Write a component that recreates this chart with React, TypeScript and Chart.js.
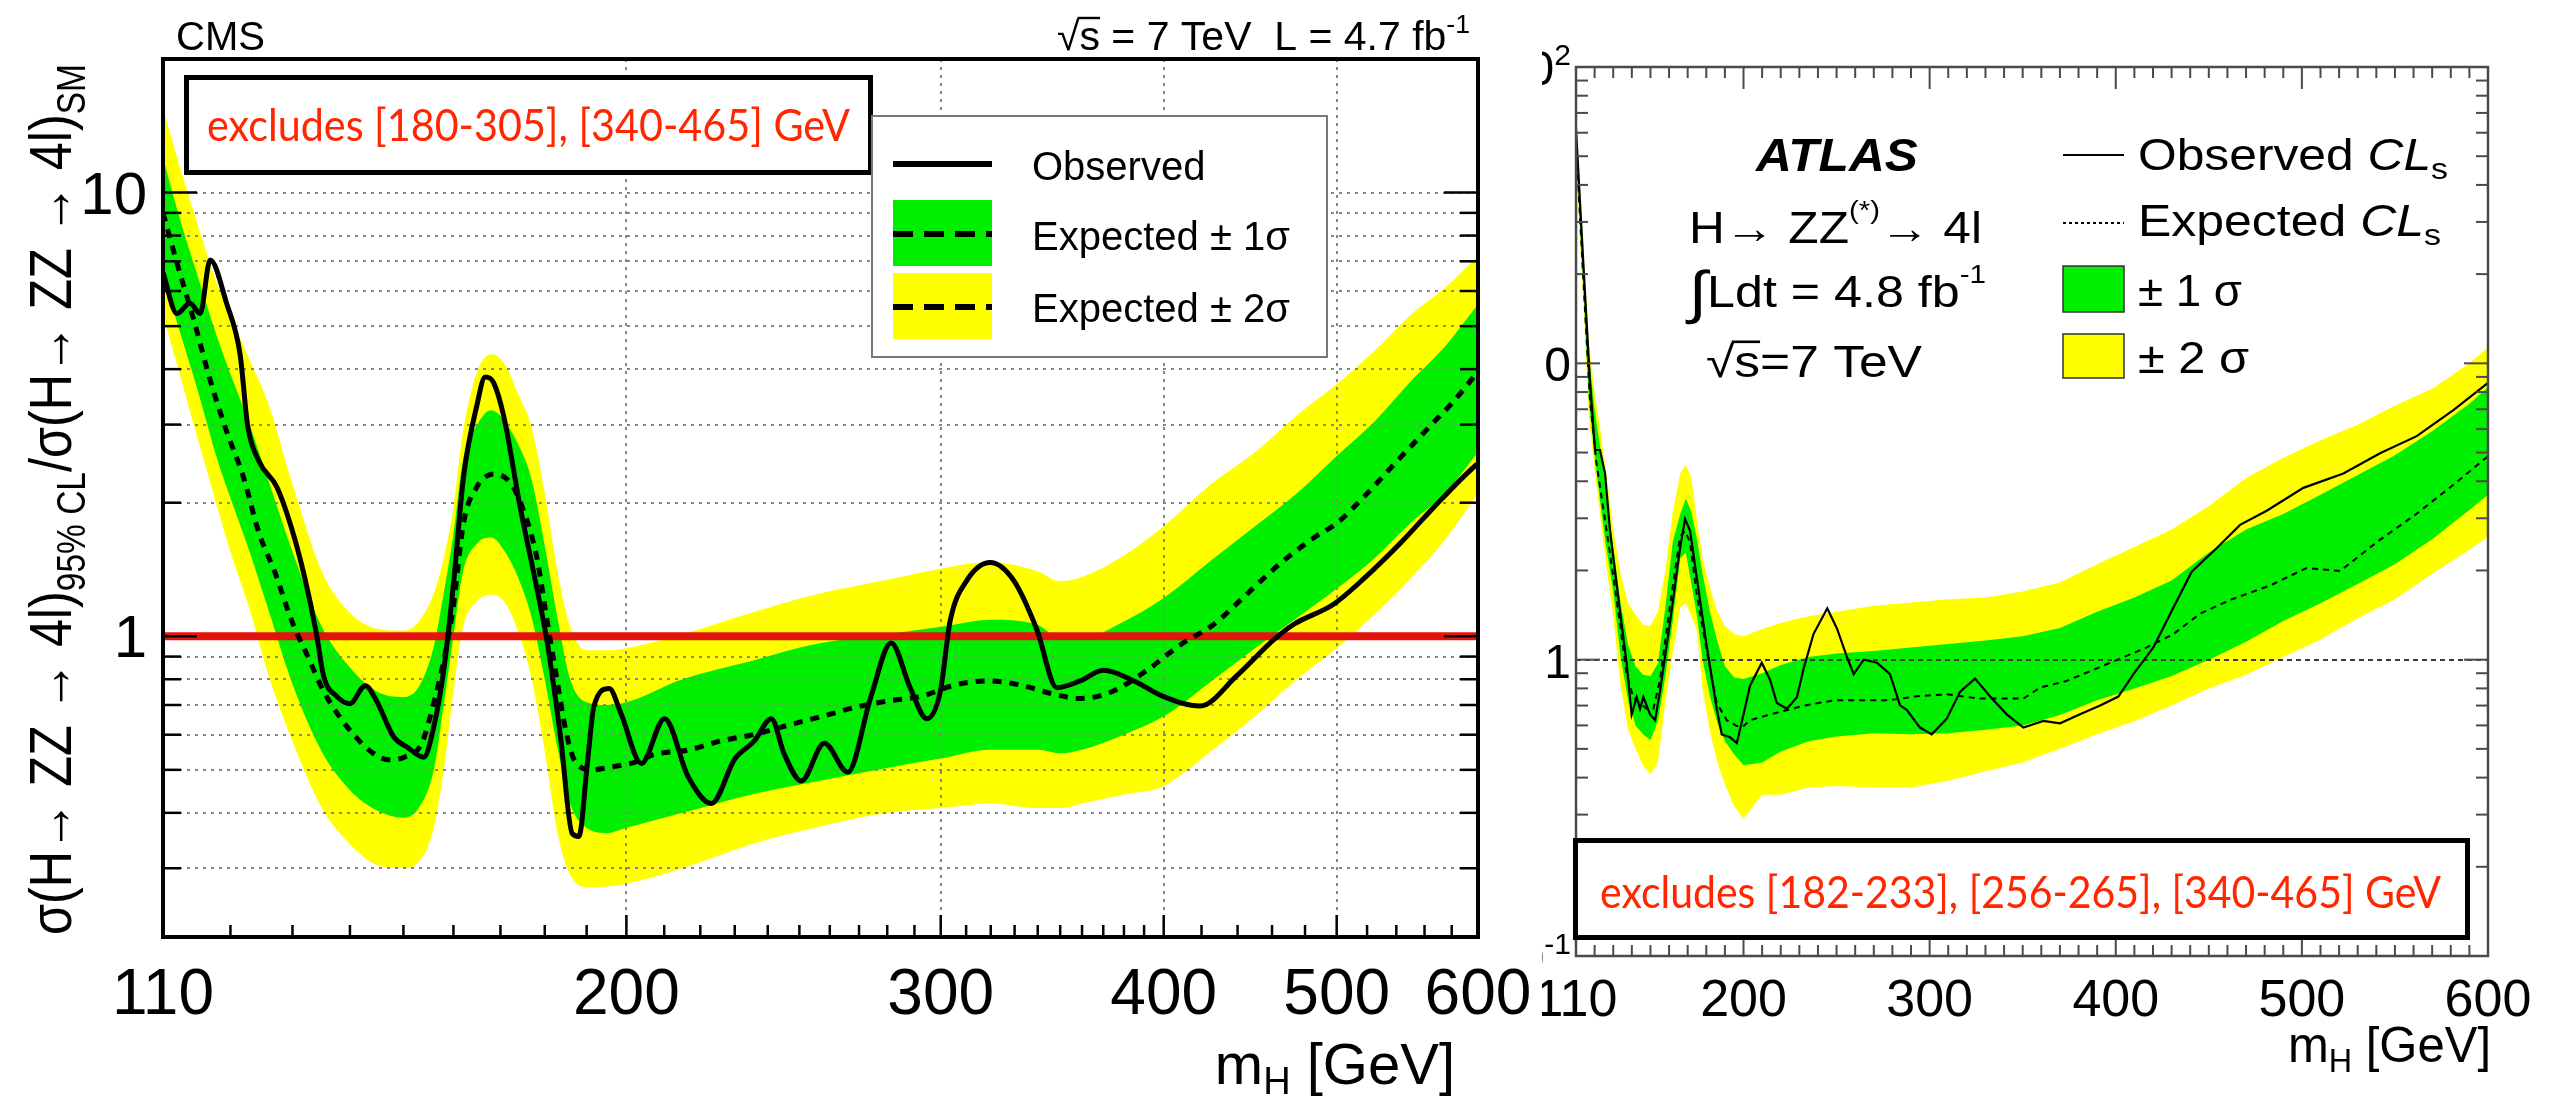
import React, { useEffect, useRef } from "react";
import { Chart, registerables } from "chart.js";

Chart.register(...registerables);

// ================= CMS panel data =================
const cmsObsMass = [110, 112, 113.9, 115.4, 116.9, 119.4, 121.5, 122.7, 124.5, 127.4, 129.8, 132.1, 134.1, 135.3, 137.6, 140, 142.8, 144.9, 148.1, 150.7, 154, 156, 158, 160, 162.1, 164.9, 166.7, 168.5, 170.7, 174.4, 178.2, 180.5, 183.7, 186.5, 188.1, 190.2, 191.8, 195.6, 198.6, 203.9, 210.1, 216.6, 223.2, 230, 235.9, 241.1, 245.2, 250.6, 258.2, 266.1, 274.2, 281.4, 288.4, 294.7, 299.8, 303.7, 310.3, 319.8, 329.6, 339.6, 348.5, 359.1, 370.1, 384.7, 399.1, 419.2, 439.6, 460.9, 472.9, 498, 517.8, 542.9, 566.8, 596.9, 600];
const cmsObsLimit = [6.6, 5.34, 5.63, 5.34, 7.05, 5.63, 4.32, 2.98, 2.48, 2.17, 1.76, 1.35, 1.01, 0.815, 0.733, 0.705, 0.774, 0.715, 0.594, 0.563, 0.534, 0.626, 0.838, 1.31, 2.29, 3.31, 3.84, 3.73, 3.14, 1.95, 1.28, 0.98, 0.594, 0.359, 0.354, 0.52, 0.696, 0.763, 0.67, 0.517, 0.652, 0.482, 0.42, 0.529, 0.581, 0.652, 0.542, 0.472, 0.574, 0.494, 0.732, 0.966, 0.766, 0.652, 0.749, 1.085, 1.336, 1.466, 1.336, 1.036, 0.766, 0.793, 0.838, 0.794, 0.734, 0.696, 0.815, 0.981, 1.063, 1.181, 1.348, 1.622, 1.954, 2.41, 2.45];
const cmsExpMass = [110, 112.4, 114.4, 116.9, 119.4, 122, 124.5, 127.2, 129.8, 132.5, 135.3, 138.1, 141, 144, 147.1, 150.2, 153.5, 156.1, 158, 159.9, 162.1, 164.9, 168.5, 172, 174.9, 178.2, 180.5, 182.7, 185, 187.3, 191.4, 195.3, 202.1, 207.4, 216.6, 226, 235.9, 246.3, 257.1, 268.4, 280.2, 292.5, 305.3, 318.7, 332.7, 347.3, 359.1, 374.9, 391.4, 408.6, 426.6, 445.3, 464.9, 485.3, 500.2, 517.8, 540.4, 564.2, 582, 600];
const cmsExpLimit = [9.0, 6.6, 5.2, 3.78, 2.9, 2.29, 1.71, 1.38, 1.09, 0.906, 0.753, 0.66, 0.594, 0.548, 0.527, 0.534, 0.571, 0.715, 0.88, 1.15, 1.8, 2.17, 2.32, 2.23, 1.95, 1.5, 1.09, 0.815, 0.61, 0.52, 0.5, 0.506, 0.52, 0.542, 0.554, 0.581, 0.601, 0.63, 0.659, 0.691, 0.715, 0.732, 0.776, 0.793, 0.776, 0.74, 0.724, 0.753, 0.838, 0.956, 1.063, 1.245, 1.459, 1.665, 1.8, 2.06, 2.48, 2.98, 3.4, 3.95];
const cmsBandMass = [110, 112, 115, 118, 120, 123, 126, 130, 135, 140, 145, 150, 153, 156, 158, 160, 162, 165, 168, 171, 174, 177, 180, 183, 186, 190, 195, 200, 215, 235, 255, 280, 300, 320, 340, 350, 360, 380, 400, 425, 450, 475, 500, 525, 550, 575, 600];
const cmsBand2Up = [15.5, 12, 8.5, 6.2, 5.3, 4.2, 3.35, 2.2, 1.4, 1.13, 1.04, 1.03, 1.08, 1.25, 1.5, 1.95, 2.9, 3.95, 4.32, 4.1, 3.5, 2.95, 2.1, 1.4, 1.05, 0.93, 0.93, 0.94, 1.01, 1.13, 1.24, 1.34, 1.42, 1.47, 1.4, 1.33, 1.36, 1.52, 1.77, 2.2, 2.6, 3.15, 3.7, 4.4, 5.3, 6.1, 7.2];
const cmsBand1Up = [12, 9.2, 6.5, 4.7, 3.9, 3.0, 2.25, 1.55, 1.05, 0.85, 0.75, 0.73, 0.77, 0.95, 1.25, 1.7, 2.5, 3.0, 3.23, 3.05, 2.7, 2.25, 1.6, 1.1, 0.8, 0.71, 0.7, 0.71, 0.8, 0.88, 0.96, 1.01, 1.05, 1.09, 1.06, 0.99, 0.99, 1.08, 1.22, 1.48, 1.77, 2.1, 2.55, 3.05, 3.75, 4.5, 5.6];
const cmsBand1Down = [6.6, 5.1, 3.6, 2.5, 2.05, 1.55, 1.15, 0.78, 0.55, 0.45, 0.405, 0.39, 0.41, 0.5, 0.7, 1.0, 1.4, 1.62, 1.67, 1.55, 1.35, 1.1, 0.8, 0.56, 0.42, 0.37, 0.36, 0.37, 0.4, 0.44, 0.47, 0.505, 0.53, 0.555, 0.555, 0.545, 0.555, 0.6, 0.66, 0.79, 0.94, 1.1, 1.28, 1.5, 1.8, 2.1, 2.6];
const cmsBand2Down = [5.3, 4.1, 2.8, 1.95, 1.55, 1.15, 0.82, 0.58, 0.41, 0.34, 0.305, 0.3, 0.31, 0.37, 0.5, 0.75, 1.05, 1.2, 1.24, 1.19, 1.02, 0.8, 0.55, 0.36, 0.29, 0.272, 0.273, 0.277, 0.3, 0.34, 0.37, 0.4, 0.41, 0.42, 0.41, 0.41, 0.42, 0.44, 0.46, 0.55, 0.66, 0.8, 0.94, 1.12, 1.35, 1.65, 2.1];
const cmsSmMass = [110, 600];
const cmsSmLimit = [1, 1];
const cmsXTickLabels = [110, 200, 300, 400, 500, 600];
const cmsYTickLabels = [1, 10];
const cmsGridX = [200, 300, 400, 500];
const cmsGridY = [0.3, 0.4, 0.5, 0.6, 0.7, 0.8, 0.9, 2, 3, 4, 5, 6, 7, 8, 9, 10];

// ================= ATLAS panel data =================
const atlasObsMass = [110, 113.9, 117.5, 120.2, 122.9, 125.6, 128.3, 133.6, 137.2, 139.9, 142.6, 144.4, 146.2, 149.8, 152.5, 155.1, 160.5, 165.9, 168.6, 171.3, 174.8, 180.2, 185.6, 188.3, 192.8, 196.4, 200, 203.5, 209.8, 214.3, 217.9, 223.3, 228.7, 232.3, 237.6, 245, 250.2, 255.6, 259.2, 264.6, 271.7, 278.7, 284.1, 287.7, 294.8, 301.1, 309.2, 316.3, 324.4, 332.5, 341.4, 350.4, 361.1, 370.1, 380.8, 391.6, 401.4, 409.5, 420.2, 431, 440.8, 454.3, 466.8, 481.1, 500.8, 522.3, 542, 561.7, 581.4, 600];
const atlasObsLimit = [62, 22, 8.7, 5.1, 5.1, 4.25, 2.72, 1.46, 0.976, 0.653, 0.747, 0.683, 0.747, 0.653, 0.625, 0.781, 1.334, 2.38, 2.98, 2.72, 1.905, 1.116, 0.683, 0.559, 0.547, 0.523, 0.653, 0.817, 0.976, 0.854, 0.714, 0.683, 0.747, 0.934, 1.22, 1.49, 1.275, 1.02, 0.893, 1.0, 0.976, 0.894, 0.701, 0.677, 0.59, 0.56, 0.632, 0.778, 0.863, 0.751, 0.654, 0.59, 0.621, 0.61, 0.654, 0.701, 0.751, 0.894, 1.1, 1.5, 1.98, 2.38, 2.85, 3.18, 3.8, 4.25, 4.97, 5.68, 6.95, 8.6];
const atlasExpMass = [110, 113.9, 117.5, 120.9, 124.6, 128.3, 133.6, 137.2, 140.8, 144.4, 147.9, 151.6, 155.1, 160.5, 165.9, 168.6, 171.3, 174.8, 180.2, 185.6, 191, 196.4, 199.7, 203.5, 214.3, 232.2, 243.4, 250.1, 278.8, 291.3, 309.2, 327.1, 350.4, 359.4, 373.7, 388.1, 402.4, 416.7, 431, 445.3, 461.4, 482.9, 502.6, 520.5, 540.2, 561.7, 581.4, 600];
const atlasExpLimit = [56, 19.4, 7.59, 4.65, 3.25, 2.28, 1.33, 0.893, 0.747, 0.714, 0.683, 0.683, 0.854, 1.52, 2.6, 2.72, 2.49, 1.67, 1.07, 0.714, 0.625, 0.597, 0.594, 0.625, 0.653, 0.699, 0.72, 0.73, 0.73, 0.751, 0.764, 0.739, 0.739, 0.805, 0.848, 0.925, 1.009, 1.1, 1.22, 1.43, 1.59, 1.78, 2.04, 1.99, 2.49, 3.11, 3.89, 4.86];
const atlasBandMass = [110, 112, 114, 117, 120, 123, 126, 130, 134, 138, 142, 146, 150, 154, 158, 162, 166, 169, 172, 175, 178, 182, 186, 190, 195, 200, 210, 220, 235, 250, 270, 290, 310, 330, 350, 370, 390, 410, 430, 450, 470, 490, 510, 530, 550, 570, 590, 600];
const atlasBand2Up = [68, 40, 24, 11.5, 8.0, 6.0, 4.4, 2.75, 1.95, 1.55, 1.42, 1.31, 1.3, 1.45, 2.0, 3.15, 4.25, 4.55, 4.1, 2.95, 2.2, 1.75, 1.45, 1.3, 1.22, 1.2, 1.27, 1.33, 1.4, 1.45, 1.52, 1.56, 1.6, 1.62, 1.7, 1.82, 2.1, 2.4, 2.75, 3.3, 4.1, 4.8, 5.5, 6.2, 7.2, 8.2, 10.0, 11.3];
const atlasBand1Up = [64, 37, 22.5, 10.5, 7.0, 5.2, 3.8, 2.4, 1.55, 1.12, 0.95, 0.89, 0.88, 0.97, 1.5, 2.5, 3.1, 3.5, 3.15, 2.55, 1.95, 1.45, 1.15, 0.95, 0.87, 0.86, 0.9, 0.96, 1.02, 1.05, 1.07, 1.1, 1.13, 1.16, 1.2, 1.28, 1.45, 1.62, 1.85, 2.3, 2.75, 3.1, 3.6, 4.2, 4.9, 5.9, 7.3, 8.3];
const atlasBand1Down = [55, 30, 17.5, 7.3, 4.9, 3.4, 2.45, 1.7, 1.02, 0.73, 0.6, 0.56, 0.535, 0.62, 0.88, 1.35, 2.2, 2.3, 1.8, 1.4, 1.0, 0.75, 0.61, 0.53, 0.48, 0.44, 0.45, 0.49, 0.53, 0.55, 0.565, 0.56, 0.565, 0.58, 0.6, 0.65, 0.73, 0.8, 0.88, 1.0, 1.15, 1.35, 1.55, 1.8, 2.1, 2.55, 3.2, 3.6];
const atlasBand2Down = [50, 27, 16, 6.5, 4.4, 3.05, 2.15, 1.4, 0.82, 0.58, 0.5, 0.44, 0.41, 0.45, 0.72, 1.05, 1.5, 1.55, 1.4, 1.25, 0.8, 0.57, 0.45, 0.38, 0.32, 0.29, 0.35, 0.35, 0.37, 0.375, 0.37, 0.37, 0.39, 0.42, 0.45, 0.5, 0.56, 0.62, 0.7, 0.8, 0.89, 1.02, 1.17, 1.38, 1.6, 1.95, 2.35, 2.6];
const atlasXTickLabels = [110, 200, 300, 400, 500, 600];
const atlasYTickLabels = [0.1, 1, 10, 100];
const atlasRefLine = 1;

// ================= layout / style =================
const PAGE_W = 2558;
const PAGE_H = 1103;
const CMS_W = 1542;
const ATLAS_X = 1542;
const ATLAS_W = PAGE_W - ATLAS_X;
const GREEN = "rgb(0, 238, 0)";
const YELLOW = "rgb(255, 255, 0)";
const RED_TXT = "#ff2600";
const SANS = '"Liberation Sans", Arial, Helvetica, sans-serif';
const GILL = 'Lato, "Open Sans", sans-serif';

type Part = { t: string; size: number; dy?: number; style?: string; weight?: string; family?: string; over?: boolean };

function fontOf(p: Part) {
  return `${p.style || "normal"} ${p.weight || "normal"} ${p.size}px ${p.family || SANS}`;
}

function seg(ctx: CanvasRenderingContext2D, x1: number, y1: number, x2: number, y2: number) {
  ctx.beginPath();
  ctx.moveTo(x1, y1);
  ctx.lineTo(x2, y2);
  ctx.stroke();
}

function drawRich(
  ctx: CanvasRenderingContext2D,
  parts: Part[],
  x: number,
  y: number,
  o: { align?: string; width?: number; color?: string; rotate?: number } = {}
) {
  const align = o.align || "left";
  const color = o.color || "#000";
  ctx.save();
  ctx.translate(x, y);
  if (o.rotate) ctx.rotate(o.rotate);
  let w = 0;
  for (const p of parts) {
    ctx.font = fontOf(p);
    w += ctx.measureText(p.t).width;
  }
  const sx = o.width ? o.width / w : 1;
  ctx.scale(sx, 1);
  let cx = align === "left" ? 0 : align === "right" ? -w : -w / 2;
  ctx.fillStyle = color;
  ctx.strokeStyle = color;
  ctx.textAlign = "left";
  ctx.textBaseline = "alphabetic";
  ctx.setLineDash([]);
  for (const p of parts) {
    ctx.font = fontOf(p);
    const pw = ctx.measureText(p.t).width;
    const dy = p.dy || 0;
    ctx.fillText(p.t, cx, dy);
    if (p.over) {
      ctx.lineWidth = Math.max(1.5, p.size * 0.06);
      seg(ctx, cx - p.size * 0.05, dy - p.size * 0.8, cx + pw, dy - p.size * 0.8);
    }
    cx += pw;
  }
  ctx.restore();
}

const pts = (xs: number[], ys: number[]) => xs.map((x, i) => ({ x, y: ys[i] }));

// ================= CMS decorations =================
const cmsDecor = {
  id: "cmsDecor",
  afterDatasetDraw(chart: any, args: any) {
    if (args.index !== 3) return;
    const { ctx, chartArea: a, scales } = chart;
    ctx.save();
    ctx.beginPath();
    ctx.rect(a.left, a.top, a.right - a.left, a.bottom - a.top);
    ctx.clip();
    ctx.strokeStyle = "#858585";
    ctx.lineWidth = 2;
    ctx.setLineDash([3, 5]);
    for (const v of cmsGridY) {
      const py = Math.round(scales.y.getPixelForValue(v));
      seg(ctx, a.left, py, a.right, py);
    }
    for (const v of cmsGridX) {
      const px = Math.round(scales.x.getPixelForValue(v));
      seg(ctx, px, a.top, px, a.bottom);
    }
    ctx.restore();
  },
  afterDraw(chart: any) {
    const { ctx, chartArea: a, scales } = chart;
    const X = (v: number) => scales.x.getPixelForValue(v);
    const Y = (v: number) => scales.y.getPixelForValue(v);
    ctx.save();
    ctx.setLineDash([]);
    ctx.strokeStyle = "#000";
    ctx.lineWidth = 2.5;
    for (let m = 110; m <= 600; m += m < 400 ? 10 : 20) {
      const major = cmsGridX.includes(m);
      const px = X(m);
      seg(ctx, px, a.bottom, px, a.bottom - (major ? 22 : 12));
    }
    for (const d of [0.1, 1, 10]) {
      for (let k = 1; k <= 9; k++) {
        const v = d * k;
        if (v < 0.21 || v > 20) continue;
        const major = k === 1;
        const py = Y(v);
        const L = major ? 34 : 18;
        seg(ctx, a.left, py, a.left + L, py);
        seg(ctx, a.right, py, a.right - L, py);
      }
    }
    ctx.lineWidth = 4;
    ctx.strokeRect(a.left, a.top, a.right - a.left, a.bottom - a.top);

    // tick labels
    for (const v of cmsXTickLabels) drawRich(ctx, [{ t: String(v), size: 64 }], X(v), 1014, { align: "center" });
    for (const v of cmsYTickLabels) drawRich(ctx, [{ t: String(v), size: 60 }], 147, Y(v) + 21, { align: "right" });

    // axis titles
    drawRich(ctx, [{ t: "m", size: 58 }, { t: "H", size: 38, dy: 10 }, { t: " [GeV]", size: 58 }], 1455, 1084, { align: "right" });
    drawRich(
      ctx,
      [
        { t: "σ(H→ ZZ → 4l)", size: 60 },
        { t: "95% CL", size: 40, dy: 14 },
        { t: "/σ(H→ ZZ → 4l)", size: 60 },
        { t: "SM", size: 40, dy: 14 },
      ],
      71,
      935,
      { rotate: -Math.PI / 2, width: 871 }
    );

    // header
    drawRich(ctx, [{ t: "CMS", size: 40 }], 176, 50);
    drawRich(
      ctx,
      [
        { t: "√", size: 40 },
        { t: "s", size: 40, over: true },
        { t: " = 7 TeV  L = 4.7 fb", size: 40 },
        { t: "-1", size: 26, dy: -17 },
      ],
      1470,
      50,
      { align: "right", width: 413 }
    );

    // exclusion box
    ctx.fillStyle = "#fff";
    ctx.fillRect(186, 77, 685, 96);
    ctx.strokeStyle = "#000";
    ctx.lineWidth = 5;
    ctx.strokeRect(186.5, 77.5, 684, 95);
    drawRich(ctx, [{ t: "excludes [180-305], [340-465] GeV", size: 44, family: GILL }], 528.5, 141, {
      align: "center",
      width: 643,
      color: RED_TXT,
    });

    // legend
    ctx.fillStyle = "#fff";
    ctx.fillRect(872, 116, 455, 241);
    ctx.strokeStyle = "#777";
    ctx.lineWidth = 2;
    ctx.strokeRect(872, 116, 455, 241);
    ctx.fillStyle = GREEN;
    ctx.fillRect(893, 200, 99, 66);
    ctx.fillStyle = YELLOW;
    ctx.fillRect(893, 273, 99, 66);
    ctx.strokeStyle = "#000";
    ctx.lineWidth = 6;
    seg(ctx, 893, 164, 992, 164);
    ctx.setLineDash([20, 11]);
    seg(ctx, 893, 234, 992, 234);
    seg(ctx, 893, 307, 992, 307);
    ctx.setLineDash([]);
    drawRich(ctx, [{ t: "Observed", size: 40 }], 1032, 180);
    drawRich(ctx, [{ t: "Expected ± 1σ", size: 40 }], 1032, 250);
    drawRich(ctx, [{ t: "Expected ± 2σ", size: 40 }], 1032, 322);
    ctx.restore();
  },
};

// ================= ATLAS decorations =================
const atlasDecor = {
  id: "atlasDecor",
  afterDatasetDraw(chart: any, args: any) {
    if (args.index !== 3) return;
    const { ctx, chartArea: a, scales } = chart;
    ctx.save();
    ctx.strokeStyle = "#3a3a3a";
    ctx.lineWidth = 2;
    ctx.setLineDash([5, 4]);
    const py = Math.round(scales.y.getPixelForValue(atlasRefLine));
    seg(ctx, a.left, py, a.right, py);
    ctx.restore();
  },
  afterDraw(chart: any) {
    const { ctx, scales } = chart;
    const O = ATLAS_X;
    const ca = chart.chartArea;
    const a = { left: ca.left + O, right: ca.right + O, top: ca.top, bottom: ca.bottom };
    const X = (v: number) => scales.x.getPixelForValue(v) + O;
    const Y = (v: number) => scales.y.getPixelForValue(v);
    ctx.save();
    ctx.translate(-O, 0);
    ctx.setLineDash([]);
    ctx.strokeStyle = "#4a4a4a";
    ctx.lineWidth = 2;
    for (let m = 110; m < 600; m += 10) {
      const major = m % 100 === 0;
      const px = X(m);
      const L = major ? 22 : 11;
      seg(ctx, px, a.bottom, px, a.bottom - L);
      seg(ctx, px, a.top, px, a.top + L);
    }
    for (const d of [0.1, 1, 10]) {
      for (let k = 1; k <= 9; k++) {
        const v = d * k;
        const py = Y(v);
        const L = k === 1 ? 24 : 12;
        seg(ctx, a.left, py, a.left + L, py);
        seg(ctx, a.right, py, a.right - L, py);
      }
    }
    ctx.lineWidth = 2.5;
    ctx.strokeRect(a.left, a.top, a.right - a.left, a.bottom - a.top);

    // tick labels
    for (const v of atlasXTickLabels) drawRich(ctx, [{ t: String(v), size: 52 }], X(v), 1016, { align: "center" });
    for (const v of atlasYTickLabels) {
      const py = Y(v) + 18;
      let parts: Part[];
      if (v === 100) parts = [{ t: "10", size: 48 }, { t: "2", size: 30, dy: -20 }];
      else if (v === 0.1) parts = [{ t: "10", size: 48 }, { t: "-1", size: 30, dy: -20 }];
      else parts = [{ t: String(v), size: 48 }];
      drawRich(ctx, parts, 1571, py, { align: "right" });
    }
    drawRich(ctx, [{ t: "m", size: 50 }, { t: "H", size: 33, dy: 10 }, { t: " [GeV]", size: 50 }], 2491, 1062, {
      align: "right",
      width: 203,
    });

    // ATLAS label block
    drawRich(ctx, [{ t: "ATLAS", size: 47, weight: "bold", style: "italic" }], 1756, 171, { width: 162 });
    drawRich(ctx, [{ t: "H→ ZZ", size: 44 }, { t: "(*)", size: 26, dy: -24 }, { t: "→ 4l", size: 44 }], 1689, 243, {
      width: 293,
    });
    drawRich(
      ctx,
      [{ t: "∫", size: 58, dy: 5 }, { t: "Ldt = 4.8 fb", size: 44 }, { t: "-1", size: 26, dy: -24 }],
      1689,
      307,
      { width: 297 }
    );
    drawRich(ctx, [{ t: "√", size: 44 }, { t: "s", size: 44, over: true }, { t: "=7 TeV", size: 44 }], 1706, 377, {
      width: 216,
    });

    // legend
    ctx.strokeStyle = "#000";
    ctx.lineWidth = 2;
    seg(ctx, 2063, 155, 2124, 155);
    ctx.setLineDash([3, 3]);
    seg(ctx, 2063, 223, 2124, 223);
    ctx.setLineDash([]);
    ctx.fillStyle = GREEN;
    ctx.fillRect(2063, 266, 61, 46);
    ctx.fillStyle = YELLOW;
    ctx.fillRect(2063, 334, 61, 44);
    ctx.strokeStyle = "#333";
    ctx.lineWidth = 1.5;
    ctx.strokeRect(2063, 266, 61, 46);
    ctx.strokeRect(2063, 334, 61, 44);
    drawRich(ctx, [{ t: "Observed ", size: 44 }, { t: "CL", size: 44, style: "italic" }, { t: "s", size: 30, dy: 9 }], 2138, 170, {
      width: 310,
    });
    drawRich(ctx, [{ t: "Expected ", size: 44 }, { t: "CL", size: 44, style: "italic" }, { t: "s", size: 30, dy: 9 }], 2138, 236, {
      width: 303,
    });
    drawRich(ctx, [{ t: "± 1 σ", size: 44 }], 2138, 306, { width: 104 });
    drawRich(ctx, [{ t: "± 2 σ", size: 44 }], 2138, 373, { width: 111 });

    // exclusion box
    ctx.fillStyle = "#fff";
    ctx.fillRect(1575, 840, 893, 98);
    ctx.strokeStyle = "#000";
    ctx.lineWidth = 5;
    ctx.strokeRect(1575.5, 840.5, 892, 97);
    drawRich(ctx, [{ t: "excludes [182-233], [256-265], [340-465] GeV", size: 44, family: GILL }], 2020.5, 908, {
      align: "center",
      width: 841,
      color: RED_TXT,
    });
    ctx.restore();
  },
};

function lineDs(label: string, data: any, extra: any) {
  return { label, data, pointRadius: 0, fill: false, ...extra };
}

function cmsConfig(): any {
  const smooth = { cubicInterpolationMode: "monotone" };
  return {
    type: "line",
    data: {
      datasets: [
        lineDs("Observed", pts(cmsObsMass, cmsObsLimit), { borderColor: "#000", borderWidth: 5, order: 0, ...smooth }),
        lineDs("Expected", pts(cmsExpMass, cmsExpLimit), { borderColor: "#000", borderWidth: 5, borderDash: [9, 8], order: 1, ...smooth }),
        lineDs("SM", pts(cmsSmMass, cmsSmLimit), { borderColor: "#e3140c", borderWidth: 8, order: 2 }),
        lineDs("+1σ", pts(cmsBandMass, cmsBand1Up), { borderColor: "rgba(0,0,0,0)", borderWidth: 1, backgroundColor: GREEN, fill: "+1", order: 3, ...smooth }),
        lineDs("-1σ", pts(cmsBandMass, cmsBand1Down), { borderColor: "rgba(0,0,0,0)", borderWidth: 1, order: 3, ...smooth }),
        lineDs("+2σ", pts(cmsBandMass, cmsBand2Up), { borderColor: "rgba(0,0,0,0)", borderWidth: 1, backgroundColor: YELLOW, fill: "+1", order: 5, ...smooth }),
        lineDs("-2σ", pts(cmsBandMass, cmsBand2Down), { borderColor: "rgba(0,0,0,0)", borderWidth: 1, order: 5, ...smooth }),
      ],
    },
    options: {
      responsive: false,
      maintainAspectRatio: false,
      animation: false,
      events: [],
      layout: { padding: { left: 163, top: 59, right: CMS_W - 1478, bottom: PAGE_H - 937 } },
      scales: {
        x: { type: "logarithmic", min: 110, max: 600, display: false },
        y: { type: "logarithmic", min: 0.21, max: 20, display: false },
      },
      plugins: { legend: { display: false }, tooltip: { enabled: false }, title: { display: false } },
    },
    plugins: [cmsDecor],
  };
}

function atlasConfig(): any {
  return {
    type: "line",
    data: {
      datasets: [
        lineDs("Observed CLs", pts(atlasObsMass, atlasObsLimit), { borderColor: "#000", borderWidth: 2.2, order: 0 }),
        lineDs("Expected CLs", pts(atlasExpMass, atlasExpLimit), { borderColor: "#000", borderWidth: 2, borderDash: [6, 5], order: 1 }),
        lineDs("unused", [], { borderColor: "rgba(0,0,0,0)", order: 2 }),
        lineDs("+1σ", pts(atlasBandMass, atlasBand1Up), { borderColor: "rgba(0,0,0,0)", borderWidth: 1, backgroundColor: GREEN, fill: "+1", order: 3 }),
        lineDs("-1σ", pts(atlasBandMass, atlasBand1Down), { borderColor: "rgba(0,0,0,0)", borderWidth: 1, order: 3 }),
        lineDs("+2σ", pts(atlasBandMass, atlasBand2Up), { borderColor: "rgba(0,0,0,0)", borderWidth: 1, backgroundColor: YELLOW, fill: "+1", order: 5 }),
        lineDs("-2σ", pts(atlasBandMass, atlasBand2Down), { borderColor: "rgba(0,0,0,0)", borderWidth: 1, order: 5 }),
      ],
    },
    options: {
      responsive: false,
      maintainAspectRatio: false,
      animation: false,
      events: [],
      layout: { padding: { left: 1576 - ATLAS_X, top: 67, right: ATLAS_W - (2488 - ATLAS_X), bottom: PAGE_H - 956 } },
      scales: {
        x: { type: "linear", min: 110, max: 600, display: false },
        y: { type: "logarithmic", min: 0.1, max: 100, display: false },
      },
      plugins: { legend: { display: false }, tooltip: { enabled: false }, title: { display: false } },
    },
    plugins: [atlasDecor],
  };
}

export default function App() {
  const cmsRef = useRef<HTMLCanvasElement>(null);
  const atlasRef = useRef<HTMLCanvasElement>(null);
  useEffect(() => {
    const c1 = new Chart(cmsRef.current as HTMLCanvasElement, cmsConfig());
    const c2 = new Chart(atlasRef.current as HTMLCanvasElement, atlasConfig());
    return () => {
      c1.destroy();
      c2.destroy();
    };
  }, []);
  return (
    <div style={{ position: "fixed", left: 0, top: 0, width: PAGE_W, height: PAGE_H, background: "#fff", overflow: "hidden" }}>
      <canvas
        ref={cmsRef}
        width={CMS_W}
        height={PAGE_H}
        style={{ position: "absolute", left: 0, top: 0, width: CMS_W, height: PAGE_H }}
      />
      <canvas
        ref={atlasRef}
        width={ATLAS_W}
        height={PAGE_H}
        style={{ position: "absolute", left: ATLAS_X, top: 0, width: ATLAS_W, height: PAGE_H }}
      />
    </div>
  );
}
